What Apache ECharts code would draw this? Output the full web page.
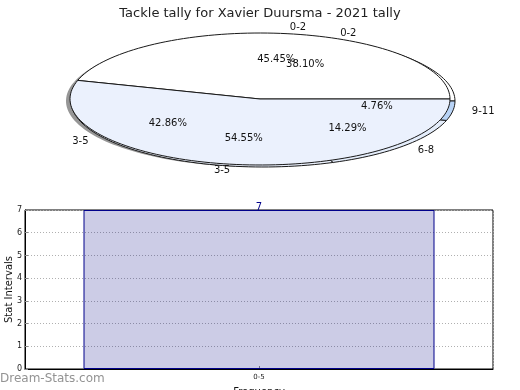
<!DOCTYPE html>
<html><head><meta charset="utf-8">
<script src="https://cdn.jsdelivr.net/npm/echarts@6/dist/echarts.min.js"></script>
<style>html,body{margin:0;padding:0;background:#fff}#c{width:520px;height:390px}</style>
</head><body><div id="c"></div>
<script>
// Outer pie (first tally)
const pieALabels = ['0-2', '3-5'];
const pieAValues = [45.45, 54.55];
// Inner pie (second tally)
const pieBLabels = ['0-2', '3-5', '6-8', '9-11'];
const pieBValues = [38.10, 42.86, 14.29, 4.76];
const pieAColors = ['#ffffff', '#ebf1fd'];
const pieBColors = ['#ffffff', '#ebf1fd', '#e4edfb', '#b8d3f6'];
// Bar chart
const barCategories = ['0-5'];
const barValues = [7];
const yTicks = [0, 1, 2, 3, 4, 5, 6, 7];

const FONT = 'DejaVu Sans';
const geomA = {cx: 260, cy: 99, rx: 190, ry: 66};
const geomB = {cx: 263, cy: 101, rx: 192, ry: 66};

function slices(values) {
  const total = values.reduce((a, b) => a + b, 0);
  let acc = 0;
  return values.map(v => { const s = acc; acc += v; return [s / total * 360, acc / total * 360, v]; });
}
function sectorPoints(g, a0, a1, dx, dy) {
  const pts = [[g.cx + dx, g.cy + dy]];
  const n = Math.max(4, Math.ceil((a1 - a0) / 2));
  for (let i = 0; i <= n; i++) {
    const a = (a0 + (a1 - a0) * i / n) * Math.PI / 180;
    pts.push([g.cx + dx + g.rx * Math.cos(a), g.cy + dy - g.ry * Math.sin(a)]);
  }
  return pts;
}
function shapeSeries(values, colors, g, z, shadow) {
  return {
    type: 'custom', coordinateSystem: 'none', z: z, silent: true,
    data: slices(values),
    renderItem: function (params, api) {
      const d = slices(values)[params.dataIndex];
      if (shadow) {
        return {type: 'polygon', shape: {points: sectorPoints(g, d[0], d[1], -4, 2)},
          style: {fill: 'rgba(80,80,80,0.6)', stroke: 'none'}};
      }
      return {type: 'polygon', shape: {points: sectorPoints(g, d[0], d[1], 0, 0)},
        style: {fill: colors[params.dataIndex], stroke: '#1a1a1a', lineWidth: 1}};
    }
  };
}
function labelSeries(values, labels, g, z) {
  return {
    type: 'custom', coordinateSystem: 'none', z: z, silent: true,
    data: slices(values),
    renderItem: function (params, api) {
      const d = slices(values)[params.dataIndex];
      const m = (d[0] + d[1]) / 2 * Math.PI / 180;
      const c = Math.cos(m), s = Math.sin(m);
      return {type: 'group', children: [
        {type: 'text', style: {text: d[2].toFixed(2) + '%', x: g.cx + 0.6 * g.rx * c, y: g.cy - 0.6 * g.ry * s,
          align: 'center', verticalAlign: 'middle', fill: '#111', font: '10px "' + FONT + '"'}},
        {type: 'text', style: {text: labels[params.dataIndex], x: g.cx + 1.1 * g.rx * c, y: g.cy - 1.1 * g.ry * s,
          align: c >= 0 ? 'left' : 'right', verticalAlign: 'middle', fill: '#111', font: '10px "' + FONT + '"'}}
      ]};
    }
  };
}

const chart = echarts.init(document.getElementById('c'), null, {renderer: 'canvas'});
chart.setOption({
  animation: false,
  backgroundColor: '#fff',
  title: {text: 'Tackle tally for Xavier Duursma - 2021 tally', left: 'center', top: 2,
    textStyle: {fontFamily: FONT, fontSize: 13, fontWeight: 'normal', color: '#222'}},
  graphic: [{type: 'text', left: 0, top: 373, z: 100,
    style: {text: 'Dream-Stats.com', fill: '#939393', font: '12px "' + FONT + '"'}}],
  grid: {left: 25, right: 27, top: 210, bottom: 21, containLabel: false, outerBoundsMode: 'none',
    show: true, borderColor: '#000', borderWidth: 1, backgroundColor: 'transparent'},
  xAxis: {type: 'category', data: barCategories, name: 'Frequency', nameLocation: 'middle', nameGap: 18,
    nameMoveOverlap: false,
    nameTextStyle: {fontFamily: FONT, fontSize: 10, color: '#111'},
    axisLine: {lineStyle: {color: '#000'}}, axisTick: {show: true, alignWithLabel: true, inside: true, length: 3, lineStyle: {color: '#888'}},
    axisLabel: {fontFamily: FONT, fontSize: 7, color: '#222', margin: 5},
    splitLine: {show: true, lineStyle: {type: [1, 2], color: '#b0b0b0'}}},
  yAxis: {type: 'value', min: 0, max: 7, interval: 1, name: 'Stat Intervals', nameLocation: 'middle', nameGap: 11, nameRotate: 90,
    nameMoveOverlap: false,
    nameTextStyle: {fontFamily: FONT, fontSize: 10, color: '#111'},
    axisLine: {show: true, lineStyle: {color: '#000'}}, axisTick: {show: true, inside: true, length: 3, lineStyle: {color: '#888'}},
    axisLabel: {fontFamily: FONT, fontSize: 8, color: '#222', margin: 3,
      formatter: v => yTicks.indexOf(v) >= 0 ? String(v) : ''},
    splitLine: {show: true, lineStyle: {type: [1, 2], color: '#b0b0b0'}}},
  series: [
    shapeSeries(pieAValues, pieAColors, geomA, 1, true),
    shapeSeries(pieBValues, pieBColors, geomB, 2, false),
    shapeSeries(pieAValues, pieAColors, geomA, 3, false),
    labelSeries(pieBValues, pieBLabels, geomB, 4),
    labelSeries(pieAValues, pieALabels, geomA, 4),
    {type: 'bar', data: barValues, barCategoryGap: '25%', z: 2,
      itemStyle: {color: 'rgba(0,0,128,0.2)', borderColor: '#00008b', borderWidth: 1},
      label: {show: true, position: 'top', distance: -2, color: '#00008b', fontFamily: FONT, fontSize: 10}}
  ]
});
</script></body></html>
